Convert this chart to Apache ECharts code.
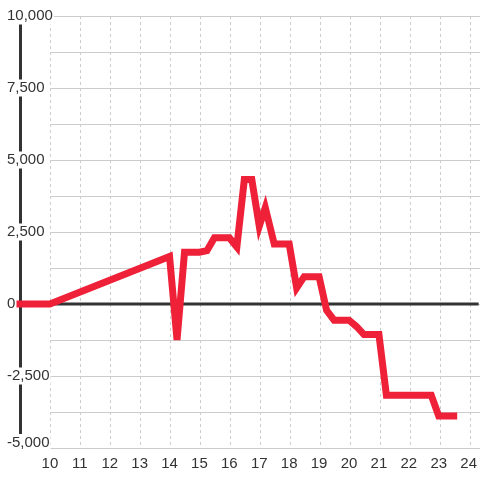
<!DOCTYPE html>
<html>
<head>
<meta charset="utf-8">
<script src="https://cdn.jsdelivr.net/npm/echarts@6/dist/echarts.min.js"></script>
<style>
  html, body { margin: 0; padding: 0; background: #fff; }
  #chart { width: 480px; height: 480px; }
</style>
</head>
<body>
<div id="chart"></div>
<script>
// values
var xValues = [9, 10, 14, 14.25, 14.5, 15, 15.25, 15.5, 16, 16.25, 16.5, 16.75, 17, 17.2, 17.5, 18, 18.25, 18.5, 19, 19.25, 19.5, 20, 20.25, 20.5, 21, 21.25, 22.75, 23, 23.5];
var yValues = [0, 0, 1650, -1250, 1800, 1800, 1850, 2300, 2300, 1980, 4320, 4320, 2700, 3350, 2080, 2080, 560, 950, 950, -220, -560, -560, -780, -1060, -1060, -3170, -3170, -3890, -3890];
var xTicks = [10, 11, 12, 13, 14, 15, 16, 17, 18, 19, 20, 21, 22, 23, 24];
var yTicks = [-5000, -2500, 0, 2500, 5000, 7500, 10000];

var xMax = 24 + 1 / 3;

var lineData = xValues.map(function (x, i) { return [x, yValues[i]]; });

var chart = echarts.init(document.getElementById('chart'));
chart.setOption({
    animation: false,
    backgroundColor: '#fff',
    textStyle: { fontFamily: 'Liberation Sans' },
    grid: [
        { left: 20, right: 0, top: 16, bottom: 32 },
        // background grid for the gridlines, starting at x = 10
        { left: 50, right: 0, top: 16, bottom: 32 }
    ],
    xAxis: [
        {
            type: 'value', gridIndex: 0, min: 9, max: xMax, interval: 1,
            axisLine: { show: false },
            axisTick: { show: false },
            splitLine: { show: false },
            axisLabel: {
                color: '#333', fontSize: 15, margin: 8,
                showMaxLabel: false,
                formatter: function (v) {
                    return xTicks.indexOf(v) >= 0 ? String(v) : '';
                }
            }
        },
        {
            type: 'value', gridIndex: 1, min: 10, max: xMax, interval: 1,
            axisLine: { show: false },
            axisTick: { show: false },
            axisLabel: { show: false },
            splitLine: { show: true, lineStyle: { color: '#ccc', type: [3, 3], width: 1 } }
        }
    ],
    yAxis: [
        {
            type: 'value', gridIndex: 0, min: -5000, max: 10000, interval: 2500,
            axisLine: { show: true, onZero: false, lineStyle: { color: '#333', width: 3 } },
            axisTick: { show: false },
            splitLine: { show: false },
            axisLabel: {
                color: '#333', fontSize: 15, margin: 14, align: 'left',
                backgroundColor: '#fff', padding: [1, 1],
                formatter: function (v) {
                    if (yTicks.indexOf(v) < 0) return '';
                    var s = v.toLocaleString('en-US');
                    // the lowest label sits just above the bottom line
                    return v === yTicks[0] ? '{low|' + s + '}' : s;
                },
                rich: {
                    low: { color: '#333', fontSize: 15, backgroundColor: '#fff', padding: [0, 0, 11, 0] }
                }
            }
        },
        {
            type: 'value', gridIndex: 1, min: -5000, max: 10000, interval: 1250,
            axisLine: { show: false },
            axisTick: { show: false },
            axisLabel: { show: false },
            splitLine: { show: true, lineStyle: { color: '#ccc', width: 1 } }
        }
    ],
    series: [
        {
            name: 'zero',
            type: 'line',
            xAxisIndex: 0, yAxisIndex: 0,
            data: [[9, 0], [xMax, 0]],
            showSymbol: false,
            silent: true,
            z: 1,
            lineStyle: { color: '#333', width: 3 }
        },
        {
            name: 'value',
            type: 'line',
            xAxisIndex: 0, yAxisIndex: 0,
            data: lineData,
            showSymbol: false,
            z: 3,
            lineStyle: { color: '#ee2138', width: 7, join: 'miter', cap: 'square' }
        }
    ]
});
</script>
</body>
</html>
